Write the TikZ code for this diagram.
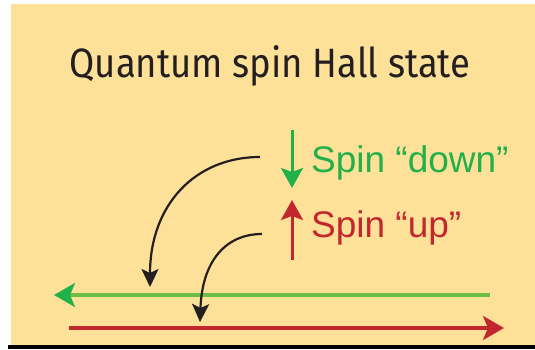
\documentclass[tikz,border=0pt]{standalone}
\usepackage{fontspec}
\setmainfont{Liberation Sans}
\newfontfamily\titlefont{Fira Sans}
\usepackage{tikz}
\usetikzlibrary{arrows.meta}

\definecolor{qshbg}{HTML}{FEE198}
\definecolor{qshgreen}{HTML}{22B04B}
\definecolor{qshgreenline}{HTML}{6CBE45}
\definecolor{qshred}{HTML}{C1272D}
\definecolor{qshink}{HTML}{231F20}

\begin{document}
\begin{tikzpicture}[x=1pt,y=-1pt,
    spintext/.style={anchor=base west, inner sep=0pt, font=\fontsize{37}{40}\selectfont},
    spinarrow/.style={line width=3pt, -{Stealth[length=20pt,width=22pt,inset=4pt]}},
    edgeline/.style={line width=3.2pt, -{Stealth[length=21pt,width=24pt,inset=5pt]}},
    hop/.style={line width=2.2pt, qshink, -{Stealth[length=18pt,width=17pt,inset=4pt]}}
]
\useasboundingbox (0,0) rectangle (535,349);
% background and bottom rule
\fill[qshbg] (11,4) rectangle (535,345);
\fill[black] (8,345) rectangle (535,349);
% title
\node[anchor=base, inner sep=0pt, text=qshink,
      font=\titlefont\fontsize{41}{44}\selectfont] (title) at (270,77) {\scalebox{0.89}[1]{Quantum spin Hall state}};
% spin legend
\coordinate (dtop) at (292,130);
\coordinate (dbot) at (292,188);
\coordinate (ubot) at (292,260);
\coordinate (utop) at (292,200);
\draw[spinarrow, qshgreen] (dtop) -- (dbot);
\draw[spinarrow, qshred] (ubot) -- (utop);
\node[spintext, text=qshgreen] (down) at (311,172) {Spin “down”};
\node[spintext, text=qshred] (up) at (311,237) {Spin “up”};
% edge channels
\coordinate (gR) at (490,295);
\coordinate (gL) at (54,295);
\coordinate (rL) at (69,328);
\coordinate (rR) at (504,328);
\draw[edgeline, qshgreenline, arrows={-{Stealth[length=21pt,width=24pt,inset=5pt,color=qshgreen]}}] (gR) -- (gL);
\draw[edgeline, qshred] (rL) -- (rR);
% curved pointers
\coordinate (c1s) at (260,157);
\coordinate (c1e) at (150,287);
\coordinate (c2s) at (262,234);
\coordinate (c2e) at (200,322);
\draw[hop] (c1s) .. controls (195,157) and (150,205) .. (c1e);
\draw[hop] (c2s) .. controls (225,234) and (202,262) .. (c2e);
\end{tikzpicture}
\end{document}
